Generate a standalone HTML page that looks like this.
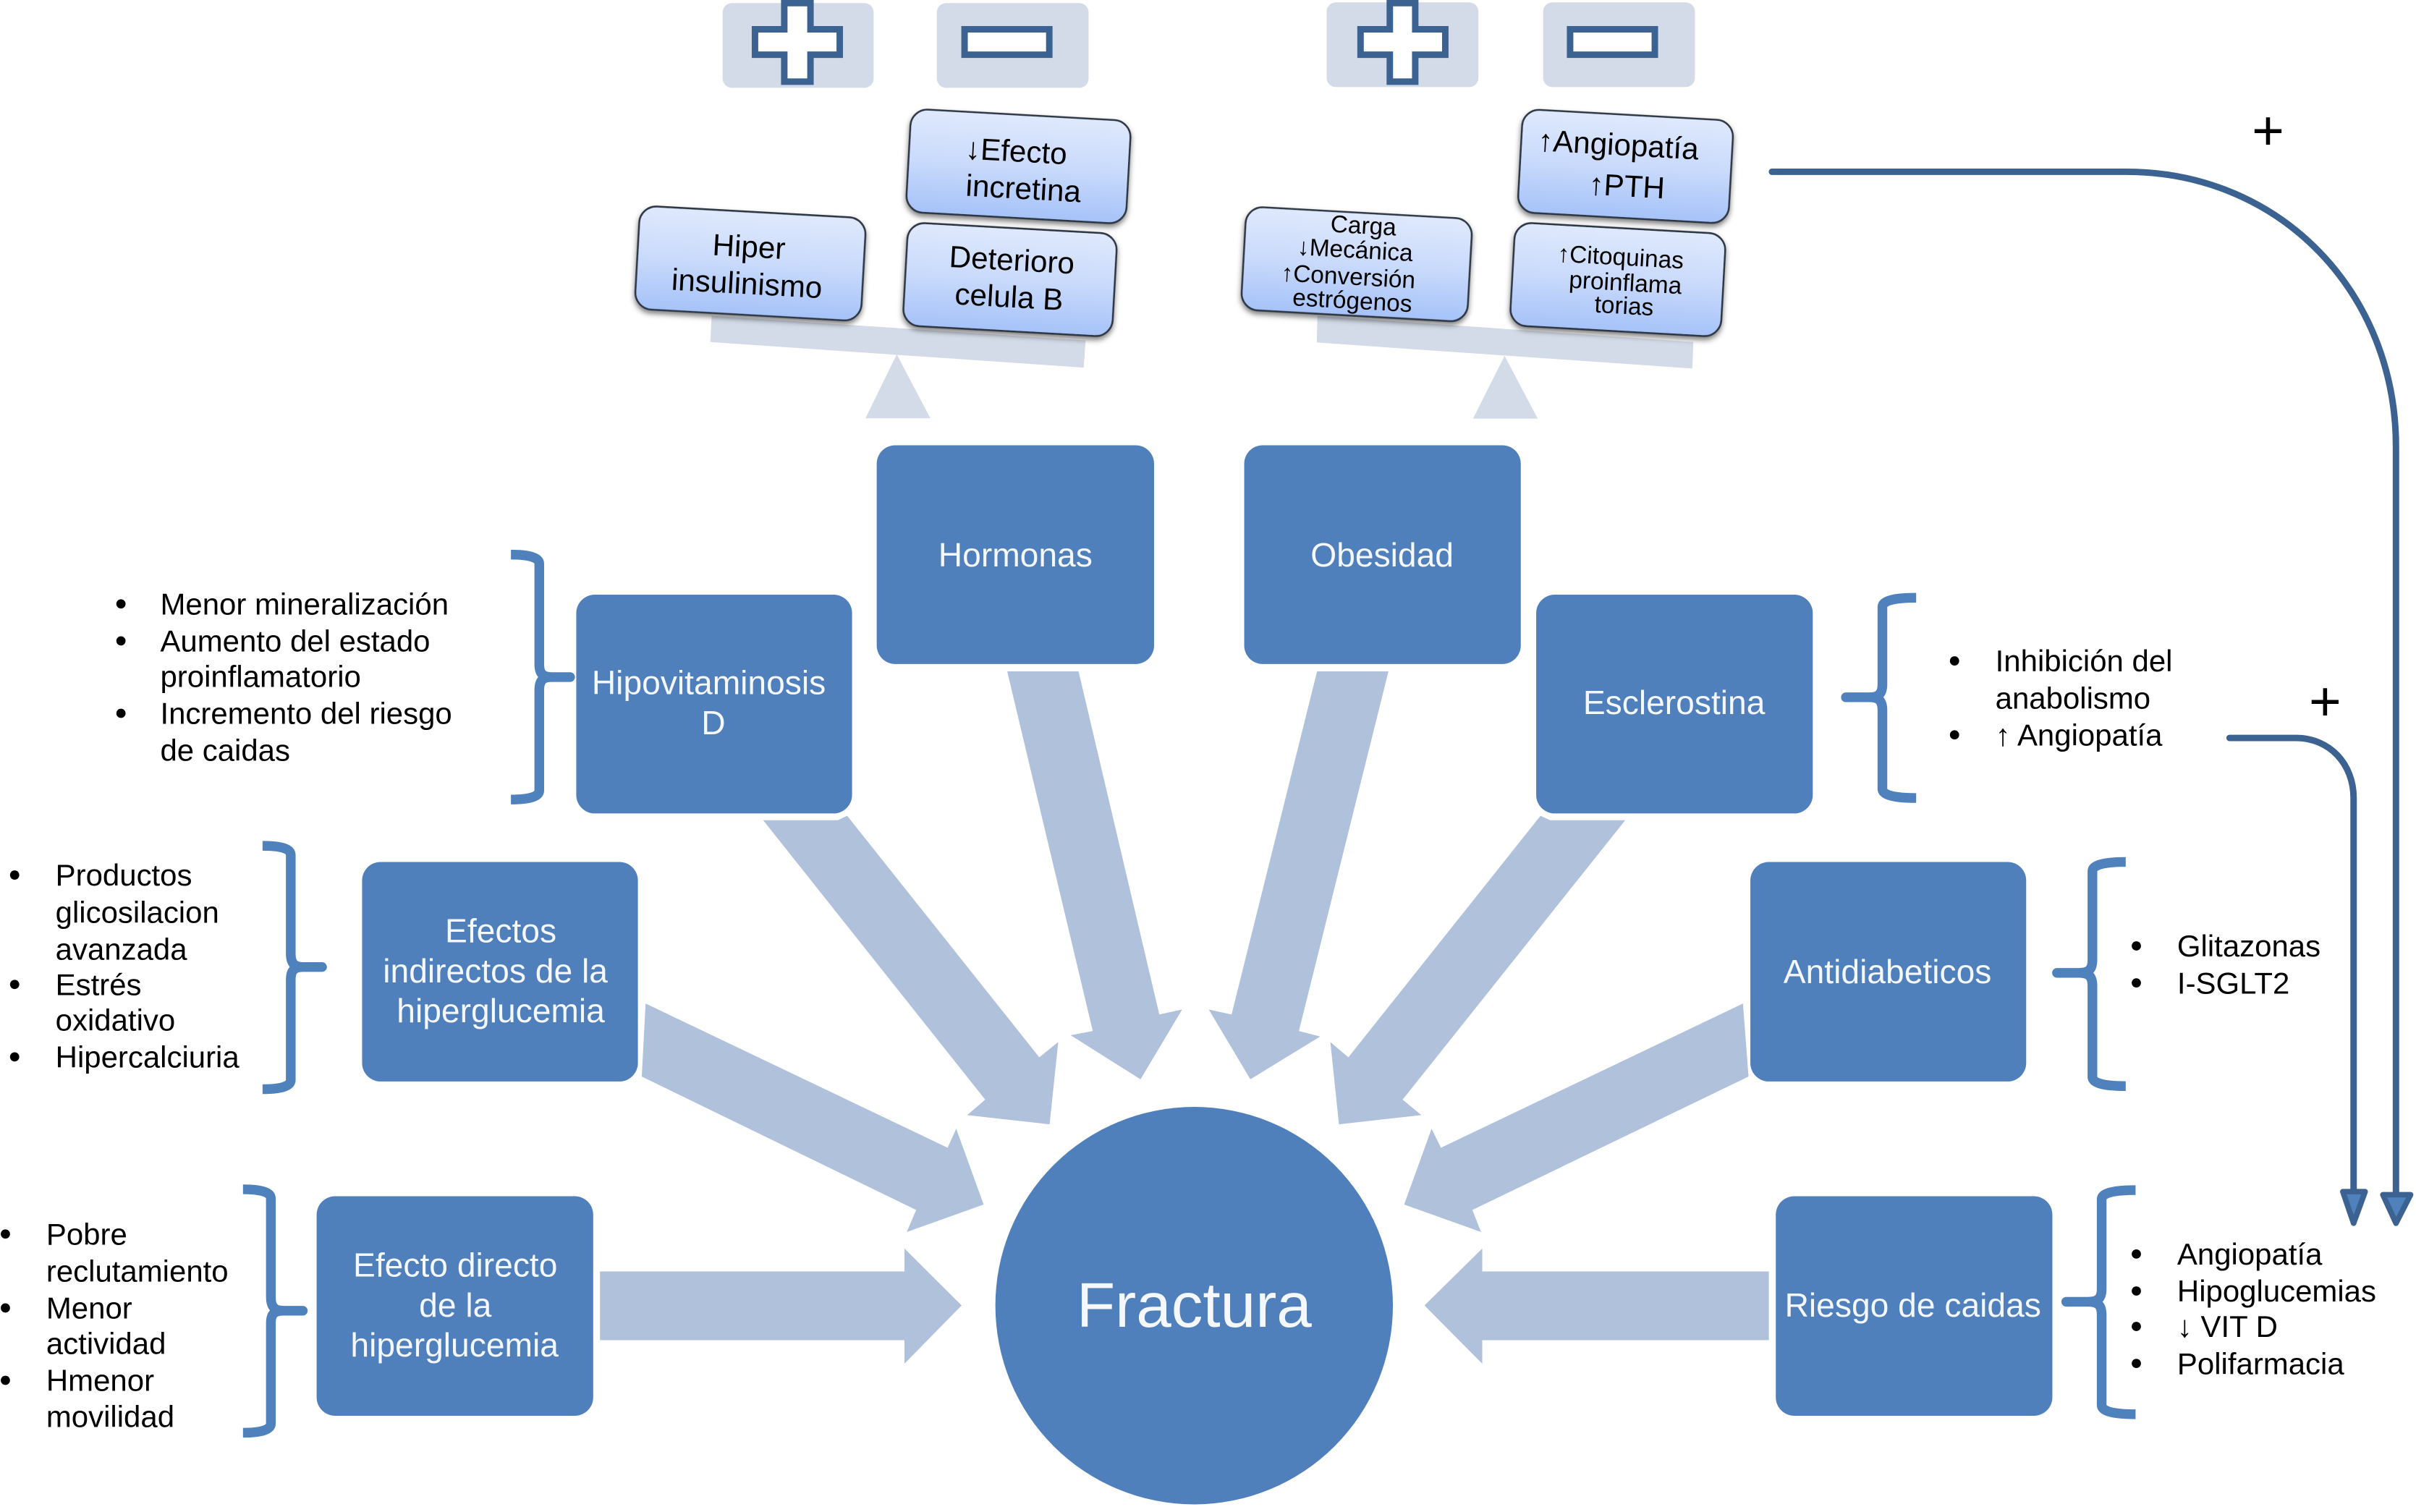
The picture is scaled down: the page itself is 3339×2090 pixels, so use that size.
<!DOCTYPE html>
<html lang="es">
<head>
<meta charset="utf-8">
<title>Fractura</title>
<style>
html,body{margin:0;padding:0;background:#fff;width:3339px;height:2090px;overflow:hidden}
svg{display:block}
text{font-family:"Liberation Sans",sans-serif}
.l{font-size:19.7px;fill:#000}
.n{font-size:21.7px;fill:#f4f7fb;text-anchor:middle}
.b{font-size:19.8px;fill:#000;text-anchor:middle}
.s{font-size:15.7px;fill:#000;text-anchor:middle}
.arrow{fill:#b0c1dc}
.box{fill:#5080bb}
.pale{fill:#d3dbe8}
.cross{fill:#fff;stroke:#3b6290;stroke-width:4.2}
.brace{fill:none;stroke:#4f81bd;stroke-width:6.3;stroke-linecap:butt;stroke-linejoin:round}
.curve{fill:none;stroke:#3b6290;stroke-width:4.2;stroke-linecap:round}
.head{fill:#4f81bd;stroke:#3b6290;stroke-width:3.6;stroke-linejoin:round}
.card{fill:url(#g);stroke:#2f3744;stroke-width:1.2;filter:url(#sh)}
</style>
</head>
<body>
<svg xmlns="http://www.w3.org/2000/svg" width="3339" height="2090" viewBox="0 0 1568 981.44">
<defs>
<linearGradient id="g" x1="0" y1="0" x2="0" y2="1">
<stop offset="0" stop-color="#dfe9fd"/>
<stop offset=".5" stop-color="#c9dafb"/>
<stop offset="1" stop-color="#a5c2f8"/>
</linearGradient>
<filter id="sh" x="-10%" y="-10%" width="120%" height="125%">
<feDropShadow dx="0" dy="2" stdDeviation="1.8" flood-color="#000" flood-opacity=".5"/>
</filter>
</defs>

<!-- top pale boxes -->
<rect class="pale" x="469" y="2" width="98" height="55" rx="6"/>
<rect class="pale" x="608" y="2" width="98.5" height="55" rx="6"/>
<rect class="pale" x="861" y="1.5" width="98.5" height="55" rx="6"/>
<rect class="pale" x="1001.5" y="1.5" width="98.5" height="55" rx="6"/>

<!-- plus and minus -->
<path class="cross" d="M509,2H526V19H545V35.500H526V53H509V35.500H490V19H509Z"/>
<rect class="cross" x="626" y="19" width="55" height="16.500"/>
<path class="cross" d="M902,2H918.500V19H938V35.500H918.500V53H902V35.500H883V19H902Z"/>
<rect class="cross" x="1019" y="19" width="55" height="16.500"/>

<!-- beams -->
<polygon class="pale" points="461.900,205 704.600,221 703.300,238.600 461,222"/>
<polygon class="pale" points="582,230 561.700,271.500 603.800,271.500"/>
<polygon class="pale" points="855,205 1099,222 1098.300,239.200 854.600,222.300"/>
<polygon class="pale" points="976.500,231 956,271.700 998,271.700"/>

<!-- tilted cards -->
<g transform="rotate(3.2 487 171)">
<rect class="card" x="413.500" y="137.500" width="147" height="67" rx="11"/>
<text class="b" x="485.500" y="160" dy=".35em">Hiper</text>
<text class="b" x="485.500" y="184" dy=".35em">insulinismo</text>
</g>
<g transform="rotate(3.2 661 108)">
<rect class="card" x="589.500" y="74.500" width="143" height="67" rx="11"/>
<text class="b" x="659" y="98" dy=".35em">↓Efecto</text>
<text class="b" x="665" y="122" dy=".35em">incretina</text>
</g>
<g transform="rotate(3.2 655.500 181.500)">
<rect class="card" x="587.500" y="148" width="136" height="67" rx="11"/>
<text class="b" x="656" y="168.500" dy=".35em">Deterioro</text>
<text class="b" x="655.500" y="192.500" dy=".35em">celula B</text>
</g>
<g transform="rotate(3.2 880.500 171.500)">
<rect class="card" x="807" y="138" width="147" height="67" rx="11"/>
<text class="s" x="883.500" y="146" dy=".35em">Carga</text>
<text class="s" x="879" y="162" dy=".35em">↓Mecánica</text>
<text class="s" x="875.500" y="179.500" dy=".35em">↑Conversión</text>
<text class="s" x="879" y="195" dy=".35em">estrógenos</text>
</g>
<g transform="rotate(3.2 1055 108)">
<rect class="card" x="986.500" y="74.500" width="137" height="67" rx="11"/>
<text class="b" x="1049.500" y="94" dy=".35em">↑Angiopatía</text>
<text class="b" x="1056.500" y="120.500" dy=".35em">↑PTH</text>
</g>
<g transform="rotate(3.2 1050 181.500)">
<rect class="card" x="981.500" y="148" width="137" height="67" rx="11"/>
<text class="s" x="1051" y="166.500" dy=".35em">↑Citoquinas</text>
<text class="s" x="1055" y="183" dy=".35em">proinflama</text>
<text class="s" x="1055" y="198" dy=".35em">torias</text>
</g>

<!-- wide arrows -->
<polygon class="arrow" points="389.400,825.300 587,825.300 587,810.400 624.100,847.400 587,885.200 587,869.900 389.400,869.900"/>
<polygon class="arrow" points="1148,825.300 962,825.300 962,810.400 924.500,847.400 962,885.200 962,869.900 1148,869.900"/>
<polygon class="arrow" points="419,651.400 615,745 620.600,732.700 638.400,781.900 588.500,799.700 594.600,785.400 416.500,698.800"/>
<polygon class="arrow" points="1131.200,651.400 935.200,745 929.100,732.700 911.300,781.900 961.200,799.700 955.600,785.400 1134.800,698.800"/>
<polygon class="arrow" points="495.300,532.400 543.700,532.400 549.800,529.500 674.500,686.300 686.800,676.400 681.200,729.800 627.700,723.800 639.400,713.800"/>
<polygon class="arrow" points="1054.800,532.400 1006,532.400 999.800,529.500 875.100,686.300 863.400,676.400 869,729.800 922.500,723.800 910.300,713.800"/>
<polygon class="arrow" points="653.700,435.800 700,435.800 752.400,658.500 767.200,655.300 740.200,700.600 694.900,672 709.200,669.200"/>
<polygon class="arrow" points="901.100,435.800 854.800,435.800 799.300,658.500 784.500,655.300 811.500,700.600 856.800,672.800 843,669.200"/>

<!-- nodes -->
<rect class="box" x="569" y="289" width="180" height="142" rx="12"/>
<rect class="box" x="807.500" y="289" width="179.500" height="142" rx="12"/>
<rect class="box" x="374" y="386" width="179" height="142" rx="12"/>
<rect class="box" x="997" y="386" width="179.500" height="142" rx="12"/>
<rect class="box" x="235" y="559.500" width="179" height="142.500" rx="12"/>
<rect class="box" x="1136" y="559.500" width="179" height="142.500" rx="12"/>
<rect class="box" x="205.500" y="776.500" width="179.500" height="142.500" rx="12"/>
<rect class="box" x="1152.500" y="776.500" width="179.500" height="142.500" rx="12"/>
<circle class="box" cx="775" cy="847.500" r="129"/>

<text class="n" x="659" y="360" dy=".35em">Hormonas</text>
<text class="n" x="897" y="360" dy=".35em">Obesidad</text>
<text class="n" x="460" y="443" dy=".35em">Hipovitaminosis</text>
<text class="n" x="463" y="469" dy=".35em">D</text>
<text class="n" x="1086.500" y="456" dy=".35em">Esclerostina</text>
<text class="n" x="325" y="604" dy=".35em">Efectos</text>
<text class="n" x="321.500" y="630" dy=".35em">indirectos de la</text>
<text class="n" x="325" y="656" dy=".35em">hiperglucemia</text>
<text class="n" x="1225" y="630.500" dy=".35em">Antidiabeticos</text>
<text class="n" x="295.500" y="821" dy=".35em">Efecto directo</text>
<text class="n" x="295.500" y="847" dy=".35em">de la</text>
<text class="n" x="295" y="873" dy=".35em">hiperglucemia</text>
<text class="n" x="1241.500" y="847" dy=".35em">Riesgo de caidas</text>
<text x="775" y="847" dy=".35em" text-anchor="middle" style="font-size:41px;fill:#f4f7fb">Fractura</text>

<!-- braces -->
<path class="brace" d="M331.600,360 Q350,360 350,366 V431 C350,437 352,439.500 358,439.500 H370 H358 C352,439.500 350,442 350,448 V513 Q350,519 331.600,519"/>
<path class="brace" d="M170.400,549 Q188.700,549 188.700,555 V619 C188.700,625 190.700,627.700 197,627.700 H209 H197 C190.700,627.700 188.700,630 188.700,636 V701 Q188.700,707 170.400,707"/>
<path class="brace" d="M157.700,772 Q175.800,772 175.800,778 V842 C175.800,848 177.800,850.800 184,850.800 H196.500 H184 C177.800,850.800 175.800,853 175.800,859 V924 Q175.800,930 157.700,930"/>
<path class="brace" d="M1243.600,388 Q1221.700,388 1221.700,394 V444 C1221.700,450 1219.700,452.600 1213,452.600 H1198 H1213 C1219.700,452.600 1221.700,455 1221.700,461 V512 Q1221.700,518 1243.600,518"/>
<path class="brace" d="M1379.600,559.500 Q1358,559.500 1358,565.500 V623 C1358,629 1356,631.500 1349,631.500 H1335 H1349 C1356,631.500 1358,634 1358,640 V699 Q1358,705 1379.600,705"/>
<path class="brace" d="M1386,772.500 Q1364,772.500 1364,778.500 V836.500 C1364,842.500 1362,845 1355,845 H1341 H1355 C1362,845 1364,847.500 1364,853.500 V912 Q1364,918 1386,918"/>

<!-- lists -->
<g class="l">
<text class="l" x="104" y="392" dy=".35em">Menor mineralización</text>
<text class="l" x="104" y="416" dy=".35em">Aumento del estado</text>
<text class="l" x="104" y="439" dy=".35em">proinflamatorio</text>
<text class="l" x="104" y="463" dy=".35em">Incremento del riesgo</text>
<text class="l" x="104" y="487" dy=".35em">de caidas</text>
<text class="l" x="36" y="568" dy=".35em">Productos</text>
<text class="l" x="36" y="592" dy=".35em">glicosilacion</text>
<text class="l" x="36" y="616" dy=".35em">avanzada</text>
<text class="l" x="36" y="639" dy=".35em">Estrés</text>
<text class="l" x="36" y="662" dy=".35em">oxidativo</text>
<text class="l" x="36" y="686" dy=".35em">Hipercalciuria</text>
<text class="l" x="30" y="801" dy=".35em">Pobre</text>
<text class="l" x="30" y="825" dy=".35em">reclutamiento</text>
<text class="l" x="30" y="849" dy=".35em">Menor</text>
<text class="l" x="30" y="872" dy=".35em">actividad</text>
<text class="l" x="30" y="896" dy=".35em">Hmenor</text>
<text class="l" x="30" y="919.500" dy=".35em">movilidad</text>
<text class="l" x="1295" y="429" dy=".35em">Inhibición del</text>
<text class="l" x="1295" y="453" dy=".35em">anabolismo</text>
<text class="l" x="1295" y="477" dy=".35em">↑ Angiopatía</text>
<text class="l" x="1413" y="614" dy=".35em">Glitazonas</text>
<text class="l" x="1413" y="638" dy=".35em">I-SGLT2</text>
<text class="l" x="1413" y="814" dy=".35em">Angiopatía</text>
<text class="l" x="1413" y="838" dy=".35em">Hipoglucemias</text>
<text class="l" x="1413" y="861" dy=".35em">↓ VIT D</text>
<text class="l" x="1413" y="885" dy=".35em">Polifarmacia</text>
</g>
<g fill="#000">
<circle cx="78.500" cy="392" r="3"/><circle cx="78.500" cy="416" r="3"/><circle cx="78.500" cy="463" r="3"/>
<circle cx="9.500" cy="568" r="3"/><circle cx="9.500" cy="639" r="3"/><circle cx="9.500" cy="686" r="3"/>
<circle cx="3.500" cy="801" r="3"/><circle cx="3.500" cy="849" r="3"/><circle cx="3.500" cy="896" r="3"/>
<circle cx="1268.500" cy="429" r="3"/><circle cx="1268.500" cy="477" r="3"/>
<circle cx="1386.500" cy="614" r="3"/><circle cx="1386.500" cy="638" r="3"/>
<circle cx="1386.500" cy="814" r="3"/><circle cx="1386.500" cy="838" r="3"/><circle cx="1386.500" cy="861" r="3"/><circle cx="1386.500" cy="885" r="3"/>
</g>

<!-- curved connectors -->
<path class="curve" d="M1150,111.500 H1380 C1480,111.500 1555,190 1555,290 V776"/>
<polygon class="head" points="1546.500,775.500 1564.500,775.500 1555,794"/>
<path class="curve" d="M1447,479 H1490 C1512,479 1527.500,496 1527.500,518 V773"/>
<polygon class="head" points="1520.500,773.500 1535,773.500 1527.500,794"/>
<text x="1472" y="84.500" dy=".35em" text-anchor="middle" style="font-size:36px;fill:#000">+</text>
<text x="1509" y="455" dy=".35em" text-anchor="middle" style="font-size:36px;fill:#000">+</text>
</svg>
</body>
</html>
